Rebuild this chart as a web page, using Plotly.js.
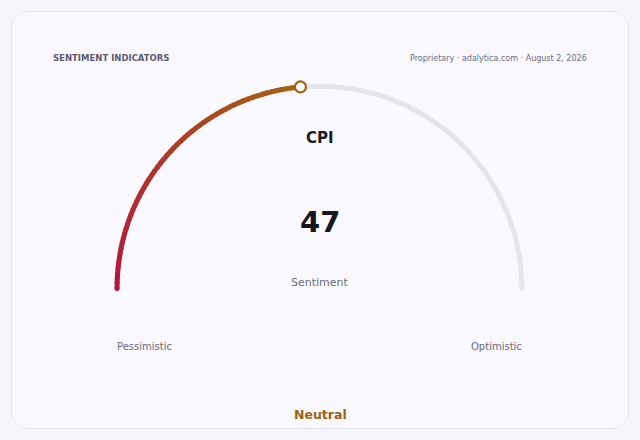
<!DOCTYPE html>
<html>
<head>
<meta charset="utf-8">
<script src="https://cdn.plot.ly/plotly-3.0.1.min.js"></script>
<style>
  html,body{margin:0;padding:0;background:#f6f6fa;}
  #wrap{position:relative;width:640px;height:440px;}
  #card{position:absolute;left:11px;top:11px;width:616px;height:416px;border:1px solid #e3e3ea;border-radius:18px;background:#f9f9fd;}
  #gauge{position:absolute;left:0;top:0;width:640px;height:440px;}
</style>
</head>
<body>
<div id="wrap"><div id="card"></div><div id="gauge"></div></div>
<script>
const config={staticPlot:true};
// Gauge data
const indicator="CPI";
const value=47;
const scaleMin=0;
const scaleMax=100;
const valueLabel="Sentiment";
const endLabels=["Pessimistic","Optimistic"];
const zoneLabel="Neutral";
const colorStart=[181,20,62];
const colorEnd=[166,98,16];

// value -> angle on the half circle (180deg at min, 0deg at max)
function ang(v){return Math.PI*(1-(v-scaleMin)/(scaleMax-scaleMin));}
function arcPts(v0,v1,n){
    const xs=[],ys=[];
    for(let i=0;i<=n;i++){
        const a=ang(v0+(v1-v0)*i/n);
        xs.push(Math.cos(a));ys.push(Math.sin(a));
    }
    return {x:xs,y:ys};
}

const traces=[];
// Track
const track=arcPts(scaleMin,scaleMax,200);
traces.push({x:track.x,y:track.y,mode:"lines",line:{color:"#e4e4ea",width:5},hoverinfo:"skip"});
// rounded caps on the track ends
traces.push({x:[track.x[0],track.x[200]],y:[track.y[0],track.y[200]],mode:"markers",marker:{color:"#e4e4ea",size:5},hoverinfo:"skip"});

// Value arc with gradient, built from short pieces
const nSeg=60;
for(let i=0;i<nSeg;i++){
    const t=(i+0.5)/nSeg;
    const c=colorStart.map((s,k)=>Math.round(s+(colorEnd[k]-s)*t));
    const v0=scaleMin+(value-scaleMin)*i/nSeg;
    const v1=scaleMin+(value-scaleMin)*Math.min(1,(i+1.3)/nSeg);
    const seg=arcPts(v0,v1,3);
    traces.push({x:seg.x,y:seg.y,mode:"lines",line:{color:"rgb("+c.join(",")+")",width:5},hoverinfo:"skip"});
}
// start cap
traces.push({x:[Math.cos(ang(scaleMin))],y:[Math.sin(ang(scaleMin))],mode:"markers",
    marker:{color:"rgb("+colorStart.join(",")+")",size:5},hoverinfo:"skip"});
// value marker
traces.push({x:[Math.cos(ang(value))],y:[Math.sin(ang(value))],mode:"markers",
    marker:{color:"#ffffff",size:11,line:{color:"rgb("+colorEnd.join(",")+")",width:2.2}},hoverinfo:"skip"});

const font="DejaVu Sans, sans-serif";
const layout={
    width:640,
    height:440,
    paper_bgcolor:"rgba(0,0,0,0)",
    plot_bgcolor:"rgba(0,0,0,0)",
    showlegend:false,
    margin:{l:0,r:0,t:0,b:0,pad:0},
    xaxis:{range:[-1.578,1.583],visible:false,fixedrange:true},
    yaxis:{range:[-0.748,1.4247],visible:false,fixedrange:true},
    font:{family:font},
    annotations:[
        {text:"<b>SENTIMENT INDICATORS</b>",xref:"paper",yref:"paper",x:51/640,y:1-58/440,xanchor:"left",yanchor:"middle",showarrow:false,
            font:{size:8.5,color:"#5b5b72",family:font}},
        {text:"Proprietary · adalytica.com · August 2, 2026",xref:"paper",yref:"paper",x:588.5/640,y:1-58/440,xanchor:"right",yanchor:"middle",showarrow:false,
            font:{size:8,color:"#6b6b7b",family:font}},
        {text:"<b>"+indicator+"</b>",xref:"paper",yref:"paper",x:0.5,y:1-138/440,xanchor:"center",yanchor:"middle",showarrow:false,
            font:{size:15,color:"#1b1b24",family:font}},
        {text:"<b>"+value+"</b>",xref:"paper",yref:"paper",x:0.5,y:1-222/440,xanchor:"center",yanchor:"middle",showarrow:false,
            font:{size:29,color:"#16161e",family:font}},
        {text:valueLabel,xref:"paper",yref:"paper",x:0.5,y:1-282/440,xanchor:"center",yanchor:"middle",showarrow:false,
            font:{size:11,color:"#6b6b78",family:font}},
        {text:endLabels[0],xref:"paper",yref:"paper",x:115/640,y:1-346/440,xanchor:"left",yanchor:"middle",showarrow:false,
            font:{size:10,color:"#6b6b78",family:font}},
        {text:endLabels[1],xref:"paper",yref:"paper",x:524/640,y:1-346/440,xanchor:"right",yanchor:"middle",showarrow:false,
            font:{size:10,color:"#6b6b78",family:font}},
        {text:"<b>"+zoneLabel+"</b>",xref:"paper",yref:"paper",x:0.5,y:1-414/440,xanchor:"center",yanchor:"middle",showarrow:false,
            font:{size:12.5,color:"#9a6212",family:font}}
    ]
};

Plotly.newPlot("gauge",traces,layout,config);
</script>
</body>
</html>
